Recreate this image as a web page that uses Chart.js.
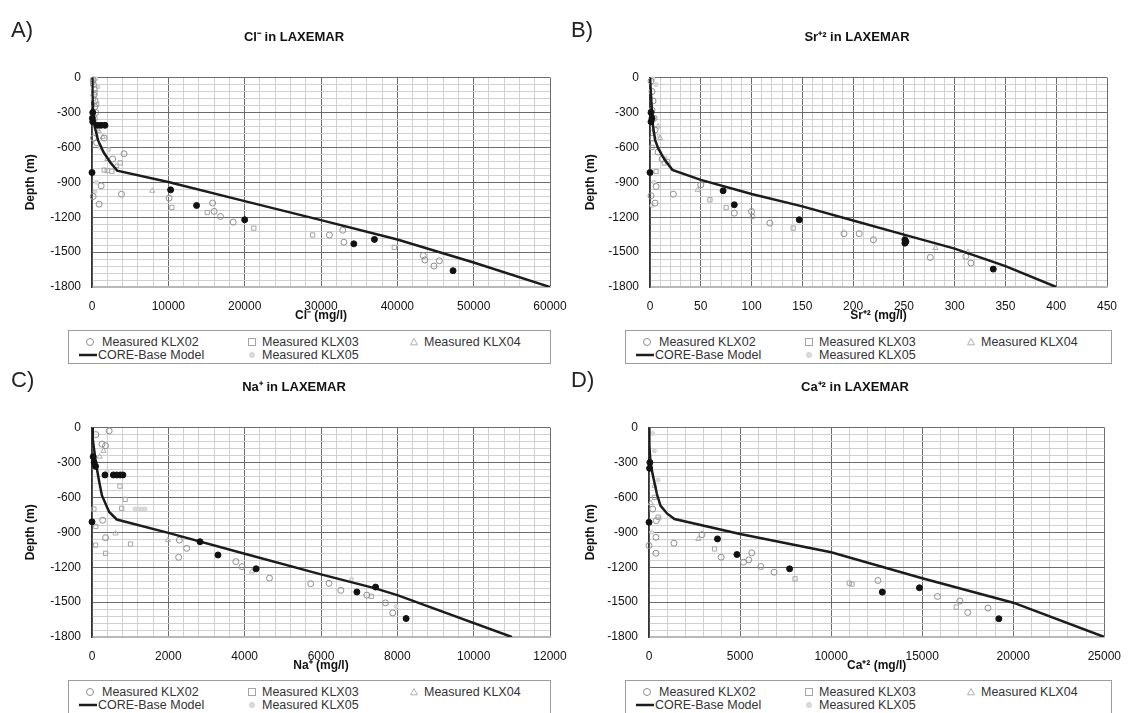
<!DOCTYPE html>
<html>
<head>
<meta charset="utf-8">
<script src="https://cdn.jsdelivr.net/npm/chart.js@4.4.1/dist/chart.umd.min.js"></script>
<style>
  html, body { margin: 0; padding: 0; background: #fff; }
  #page { position: relative; width: 1133px; height: 713px; overflow: hidden;
          font-family: "Liberation Sans", Arial, sans-serif; }
  .tag { position: absolute; font-size: 22px; line-height: 24px; color: #222; }
  .legend { position: absolute; box-sizing: border-box; border: 1px solid #9c9c9c; background: #fff; }
  .item { position: absolute; white-space: nowrap; font-size: 12.5px; line-height: 15px; color: #333; }
  .mark { position: absolute; line-height: 0; }
  .mark svg { display: block; }
</style>
</head>
<body>
<div id="page"></div>
<script>
// ---------- axis tick labels ----------
const depthTicks = [0, -300, -600, -900, -1200, -1500, -1800];
const clTicks = [0, 10000, 20000, 30000, 40000, 50000, 60000];
const srTicks = [0, 50, 100, 150, 200, 250, 300, 350, 400, 450];
const naTicks = [0, 2000, 4000, 6000, 8000, 10000, 12000];
const caTicks = [0, 5000, 10000, 15000, 20000, 25000];

const legendLabels = ['Measured KLX02', 'Measured KLX03', 'Measured KLX04', 'CORE-Base Model', 'Measured KLX05'];

// ---------- Cl- (mg/l) vs depth (m) ----------
const clModel = [[0,0],[60,-150],[150,-300],[350,-420],[800,-540],[1500,-640],[2400,-730],[3300,-800],[10000,-897],[20000,-1062],[30000,-1225],[40000,-1392],[50000,-1590],[60000,-1800]];
const clKLX02 = [[150,-20],[200,-60],[300,-100],[250,-150],[400,-200],[350,-250],[500,-300],[300,-350],[200,-520],[600,-560],[1600,-520],[4200,-655],[2700,-700],[1200,-930],[150,-1022],[930,-1088],[3860,-1002],[10100,-1036],[15800,-1078],[16000,-1150],[16840,-1194],[18500,-1242],[31100,-1353],[32850,-1312],[33000,-1415],[43400,-1530],[43600,-1568],[44800,-1620],[45500,-1575]];
const clKLX03 = [[100,-40],[400,-130],[200,-180],[600,-230],[700,-440],[3700,-733],[2000,-800],[2600,-805],[1600,-795],[10470,-1116],[15100,-1160],[21200,-1294],[28900,-1353],[39600,-1459]];
const clKLX04 = [[1400,-510],[900,-460],[2000,-700],[7900,-973],[3200,-760]];
const clKLX05 = [[500,-10],[800,-80],[1100,-600],[2200,-620],[600,-900],[400,-980]];
const clFilled = [[0,-816],[13700,-1099],[20000,-1222],[34300,-1429],[37000,-1391],[47300,-1660],[10300,-965],[700,-410],[1200,-410],[1700,-410],[100,-300],[50,-350],[100,-380]];

// ---------- Sr+2 (mg/l) vs depth (m) ----------
const srModel = [[0,0],[1,-150],[2,-300],[3,-420],[5,-535],[8,-607],[14,-700],[22,-793],[50,-879],[100,-1000],[150,-1107],[200,-1228],[250,-1350],[300,-1470],[350,-1620],[400,-1800]];
const srKLX02 = [[1,-30],[2,-120],[3,-200],[2,-280],[4,-350],[5,-450],[3,-520],[8,-640],[12,-700],[23,-1002],[50,-922],[6,-936],[5,-1079],[1,-1016],[83,-1165],[100,-1151],[118,-1251],[191,-1342],[206,-1342],[220,-1394],[276,-1546],[311,-1537],[316,-1594]];
const srKLX03 = [[6,-807],[17,-721],[14,-735],[59,-1050],[75,-1117],[101,-1194],[141,-1294],[2,-600]];
const srKLX04 = [[47,-965],[281,-1465],[313,-1500],[8,-420],[10,-520]];
const srKLX05 = [[3,-10],[6,-60],[9,-500],[15,-690],[4,-900],[2,-1100]];
const srFilled = [[0,-816],[83,-1093],[147,-1222],[251,-1394],[251,-1423],[252,-1410],[338,-1646],[72,-973],[1,-300],[2,-350],[1,-380]];

// ---------- Na+ (mg/l) vs depth (m) ----------
const naModel = [[0,0],[20,-100],[60,-200],[100,-300],[180,-450],[260,-583],[450,-725],[650,-790],[2000,-905],[4000,-1085],[6000,-1262],[7400,-1380],[8000,-1440],[11000,-1800]];
const naKLX02 = [[450,-28],[355,-156],[262,-142],[100,-60],[280,-796],[355,-947],[2290,-967],[2270,-1115],[2480,-1038],[3770,-1152],[3930,-1195],[4650,-1294],[5730,-1342],[6210,-1339],[6520,-1399],[7690,-1507],[7880,-1593],[7200,-1440]];
const naKLX03 = [[733,-503],[870,-617],[778,-694],[1010,-1001],[93,-1010],[355,-1081],[7320,-1450],[50,-700],[100,-850]];
const naKLX04 = [[617,-910],[1990,-967],[4190,-1237],[300,-200],[200,-250]];
const naKLX05 = [[1130,-700],[1220,-700],[1300,-700],[1390,-700],[6800,-1302],[7970,-1536],[400,-380]];
const naFilled = [[0,-810],[2830,-981],[3300,-1095],[4300,-1214],[6940,-1413],[7430,-1371],[8230,-1641],[340,-407],[560,-407],[650,-407],[740,-407],[810,-407],[93,-333],[56,-299],[30,-250]];

// ---------- Ca+2 (mg/l) vs depth (m) ----------
const caModel = [[0,0],[20,-150],[80,-300],[200,-400],[435,-571],[630,-671],[1000,-740],[1400,-786],[5000,-914],[10000,-1071],[15000,-1295],[20000,-1505],[25000,-1800]];
const caKLX02 = [[380,-943],[1370,-994],[380,-1080],[0,-1014],[2910,-920],[3960,-1114],[5190,-1157],[5640,-1077],[6140,-1194],[6870,-1243],[12570,-1314],[15840,-1451],[17070,-1491],[17500,-1589],[18610,-1551],[5480,-1137],[200,-700],[400,-800]];
const caKLX03 = [[3600,-1043],[8020,-1300],[11000,-1337],[11150,-1345],[16870,-1543],[300,-600],[500,-770]];
const caKLX04 = [[2710,-957],[300,-500],[100,-650]];
const caKLX05 = [[200,-50],[300,-200],[500,-450],[600,-780],[150,-900]];
const caFilled = [[0,-814],[3760,-957],[4830,-1091],[7720,-1214],[12810,-1414],[14850,-1377],[19210,-1643],[50,-300],[30,-350]];

// ---------- marker styles per series ----------
const styles = {
  k02:    { pointStyle: 'circle',   radius: 3,   border: '#8e8e8e', fill: 'rgba(255,255,255,0)', width: 1 },
  k03:    { pointStyle: 'rect',     radius: 3,   border: '#a4a4a4', fill: 'rgba(255,255,255,0)', width: 1 },
  k04:    { pointStyle: 'triangle', radius: 3,   border: '#b0b0b0', fill: 'rgba(255,255,255,0)', width: 1 },
  k05:    { pointStyle: 'circle',   radius: 2,   border: '#d0d0d0', fill: '#dcdcdc', width: 1 },
  filled: { pointStyle: 'circle',   radius: 3,   border: '#111', fill: '#111', width: 1 },
  model:  { color: '#1c1c1c', width: 2.5 }
};

const panels = [
  { tag: 'A)', title: 'Cl\u207B in LAXEMAR', xTitle: 'Cl\u207B (mg/l)', xTicks: clTicks, xMinor: 2000,
    series: { k02: clKLX02, k03: clKLX03, k04: clKLX04, k05: clKLX05, filled: clFilled, model: clModel },
    left: 0, top: 0, width: 580, padL: 38, padR: 30, yW: 54, yTitlePad: -14.2,
    legend: { left: 68, top: 330, width: 483 } },
  { tag: 'B)', title: 'Sr\u207A\u00B2 in LAXEMAR', xTitle: 'Sr\u207A\u00B2 (mg/l)', xTicks: srTicks, xMinor: 10,
    series: { k02: srKLX02, k03: srKLX03, k04: srKLX04, k05: srKLX05, filled: srFilled, model: srModel },
    left: 560, top: 0, width: 573, padL: 47, padR: 26, yW: 43, yTitlePad: -23.2,
    legend: { left: 625, top: 330, width: 487 } },
  { tag: 'C)', title: 'Na\u207A in LAXEMAR', xTitle: 'Na\u207A (mg/l)', xTicks: naTicks, xMinor: 400,
    series: { k02: naKLX02, k03: naKLX03, k04: naKLX04, k05: naKLX05, filled: naFilled, model: naModel },
    left: 0, top: 350, width: 580, padL: 38, padR: 30, yW: 54, yTitlePad: -14.2,
    legend: { left: 68, top: 680, width: 483 } },
  { tag: 'D)', title: 'Ca\u207A\u00B2 in LAXEMAR', xTitle: 'Ca\u207A\u00B2 (mg/l)', xTicks: caTicks, xMinor: 1000,
    series: { k02: caKLX02, k03: caKLX03, k04: caKLX04, k05: caKLX05, filled: caFilled, model: caModel },
    left: 560, top: 350, width: 573, padL: 43, padR: 26, yW: 46, yTitlePad: -19.2,
    legend: { left: 625, top: 680, width: 487 } }
];

Chart.defaults.font.family = '"Liberation Sans", Arial, sans-serif';
Chart.defaults.color = '#111';

const page = document.getElementById('page');
const CANVAS_H = 323;
const onList = (v, list) => list.some(t => Math.abs(t - v) < 1e-6);
const gridColor = list => c => (c.tick && onList(c.tick.value, list)) ? '#6c6c6c' : '#d0d0d0';
const toXY = arr => arr.map(([x, y]) => ({ x, y }));

function markerSet(label, data, s, order) {
  return {
    label, data: toXY(data), showLine: false, clip: false, order,
    pointStyle: s.pointStyle, pointRadius: s.radius, pointHoverRadius: s.radius,
    pointBorderColor: s.border, pointBackgroundColor: s.fill, pointBorderWidth: s.width,
    borderColor: s.border, backgroundColor: s.fill
  };
}

function markerSvg(key) {
  const s = styles[key];
  if (key === 'model') {
    return '<svg width="18" height="6"><line x1="0" y1="3" x2="18" y2="3" stroke="' + s.color + '" stroke-width="2.5"/></svg>';
  }
  const r = s.radius + 0.5;
  let shape;
  if (s.pointStyle === 'rect') shape = '<rect x="' + (6 - r) + '" y="' + (6 - r) + '" width="' + 2 * r + '" height="' + 2 * r + '"';
  else if (s.pointStyle === 'triangle') shape = '<polygon points="6,' + (6 - r) + ' ' + (6 + r) + ',' + (6 + r * 0.8) + ' ' + (6 - r) + ',' + (6 + r * 0.8) + '"';
  else shape = '<circle cx="6" cy="6" r="' + r + '"';
  return '<svg width="12" height="12">' + shape + ' fill="' + s.fill + '" stroke="' + s.border + '" stroke-width="1"/></svg>';
}

function buildLegend(p) {
  const box = document.createElement('div');
  box.className = 'legend';
  box.style.cssText = 'left:' + p.legend.left + 'px;top:' + p.legend.top + 'px;width:' + p.legend.width + 'px;height:34px;';
  const entries = [
    { key: 'k02', text: legendLabels[0], mx: 15, tx: 33, ry: 11 },
    { key: 'k03', text: legendLabels[1], mx: 177, tx: 193, ry: 11 },
    { key: 'k04', text: legendLabels[2], mx: 339, tx: 355, ry: 11 },
    { key: 'model', text: legendLabels[3], mx: 10, tx: 29, ry: 24 },
    { key: 'k05', text: legendLabels[4], mx: 177, tx: 193, ry: 24 }
  ];
  entries.forEach(e => {
    const m = document.createElement('div');
    m.className = 'mark';
    m.innerHTML = markerSvg(e.key);
    m.style.left = e.mx + 'px';
    m.style.top = (e.ry - (e.key === 'model' ? 3 : 6)) + 'px';
    box.appendChild(m);
    const t = document.createElement('div');
    t.className = 'item';
    t.textContent = e.text;
    t.style.left = e.tx + 'px';
    t.style.top = (e.ry - 7.5) + 'px';
    box.appendChild(t);
  });
  page.appendChild(box);
}

function buildPanel(p) {
  const cv = document.createElement('canvas');
  cv.width = p.width; cv.height = CANVAS_H;
  cv.style.cssText = 'position:absolute;left:' + p.left + 'px;top:' + p.top + 'px;width:' + p.width + 'px;height:' + CANVAS_H + 'px;';
  page.appendChild(cv);

  const tag = document.createElement('div');
  tag.className = 'tag';
  tag.textContent = p.tag;
  tag.style.left = (p.left + 11) + 'px';
  tag.style.top = (p.top + 18) + 'px';
  page.appendChild(tag);

  const sr = p.series;
  const model = styles.model;
  const datasets = [
    markerSet(legendLabels[0], sr.k02, styles.k02, 2),
    markerSet(legendLabels[1], sr.k03, styles.k03, 2),
    markerSet(legendLabels[2], sr.k04, styles.k04, 2),
    markerSet(legendLabels[4], sr.k05, styles.k05, 3),
    { label: legendLabels[3], data: toXY(sr.model), showLine: true, order: 1,
      borderColor: model.color, borderWidth: model.width, pointRadius: 0, pointHoverRadius: 0,
      tension: 0, fill: false },
    markerSet('Measured (filled)', sr.filled, styles.filled, 0)
  ];

  new Chart(cv, {
    type: 'scatter',
    data: { datasets },
    options: {
      responsive: false, animation: false, devicePixelRatio: 1,
      events: [],
      layout: { padding: { left: p.padL, right: p.padR, top: 0, bottom: 0 } },
      plugins: {
        legend: { display: false },
        tooltip: { enabled: false },
        title: { display: true, text: p.title, color: '#111',
                 font: { size: 13, weight: 'bold' }, padding: { top: 30, bottom: 32 } }
      },
      scales: {
        x: {
          type: 'linear', position: 'bottom',
          min: Math.min(...p.xTicks), max: Math.max(...p.xTicks),
          afterFit: s => { s.height = 36; },
          ticks: { stepSize: p.xMinor, autoSkip: false, maxRotation: 0, minRotation: 0, padding: 12,
                   font: { size: 12 }, color: '#111',
                   callback: v => onList(v, p.xTicks) ? String(v) : '' },
          grid: { color: gridColor(p.xTicks), lineWidth: 1, drawTicks: false },
          border: { display: true, color: '#b8b8b8', width: 2 },
          title: { display: true, text: p.xTitle, color: '#111',
                   font: { size: 12, weight: 'bold' }, padding: { top: 0, bottom: 0 } }
        },
        y: {
          type: 'linear', position: 'left',
          min: Math.min(...depthTicks), max: Math.max(...depthTicks),
          afterFit: s => { s.width = p.yW; },
          ticks: { stepSize: 60, autoSkip: false, padding: 11, font: { size: 12 }, color: '#111',
                   callback: v => onList(v, depthTicks) ? String(v) : '' },
          grid: { color: gridColor(depthTicks), lineWidth: 1, drawTicks: false },
          border: { display: true, color: '#333', width: 1.5 },
          title: { display: true, text: 'Depth (m)', color: '#111',
                   font: { size: 12, weight: 'bold' }, padding: { top: p.yTitlePad, bottom: 0 } }
        }
      }
    }
  });

  buildLegend(p);
}

panels.forEach(buildPanel);
</script>
</body>
</html>
